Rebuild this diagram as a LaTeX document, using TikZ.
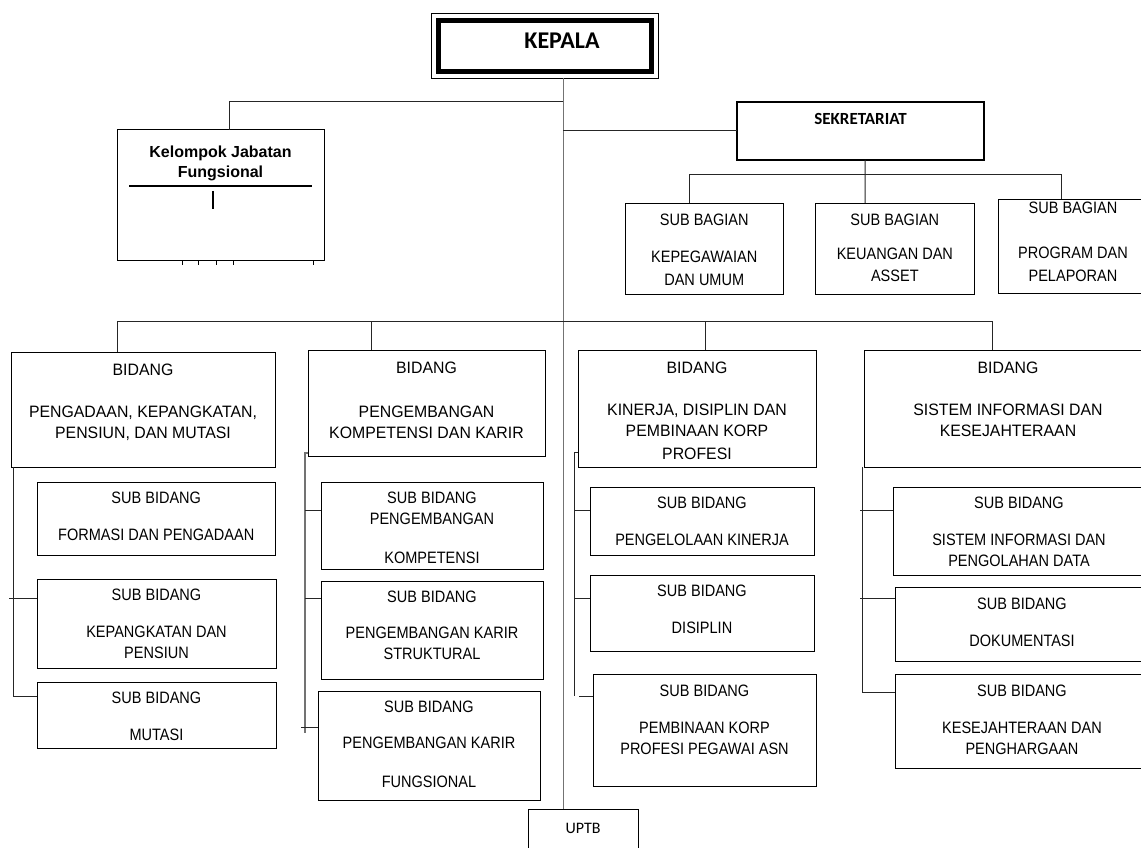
\documentclass[tikz,border=0pt]{standalone}
\usepackage{fontspec}
\usetikzlibrary{calc}
\newfontfamily\subf[FakeStretch=0.88]{Liberation Sans}
\newfontfamily\bidf[FakeStretch=0.96]{Liberation Sans}
\newfontfamily\arialf{Liberation Sans}
\newfontfamily\calib{Carlito}
\tikzset{
  box/.style={draw, rectangle, line width=1pt, inner sep=0pt, outer sep=0pt},
  txt/.style={anchor=base, inner sep=0pt, outer sep=0pt},
  subtx/.style={font=\subf\fontsize{16.5}{21.5}\selectfont},
  bidtx/.style={font=\bidf\fontsize{16.5}{21.5}\selectfont},
  ln/.style={line width=1pt, draw=black!85},
  gl/.style={line width=1.4pt, draw=black!55},
}
\newcommand\bx[8]{%
  \node[box,#1,minimum width={#5-#3},minimum height={#6-#4}] (#2) at ({(#3+#5)/2},{(#4+#6)/2}) {};
  \node[txt,#1] (#2t) at ({(#3+#5)/2},#7) {\begin{tabular}[t]{@{}c@{}}#8\end{tabular}};}
\begin{document}
\begin{tikzpicture}[x=1pt,y=-1pt]
\useasboundingbox (0,0) rectangle (1141,848);
\clip (0,0) rectangle (1141,848);
% top level
\node[box,minimum width=226.5,minimum height=65] (kep) at (544.75,46) {};
\draw[line width=5pt] ($(kep.north west)+(7,7)$) rectangle ($(kep.south east)+(-7,-7)$);
\node[txt,font=\calib\bfseries\fontsize{24}{28}\selectfont] (kept) at (562,49) {KEPALA};
\bx{font=\arialf\bfseries\fontsize{16}{20}\selectfont}{kjf}{117}{130}{324}{260}{158}{Kelompok Jabatan\\Fungsional}
\draw[line width=1.2pt] ($(kjf.north west)+(12,56)$) -- ($(kjf.north west)+(195,56)$);
\draw[line width=1.2pt] ($(kjf.north west)+(96,61)$) -- ($(kjf.north west)+(96,79)$);
\foreach \dx in {65,81,99,116,196} \draw[line width=0.9pt] ($(kjf.south west)+(\dx,0)$) -- ++(0,5);
\bx{line width=2.2pt,font=\calib\bfseries\fontsize{17}{20}\selectfont}{sek}{737}{102}{984}{160}{125}{SEKRETARIAT}
% sub bagian
\bx{subtx}{sb1}{625}{203}{783.5}{294}{225}{SUB BAGIAN\\[15.5pt]KEPEGAWAIAN\\[1.5pt]DAN UMUM}
\bx{subtx}{sb2}{815.7}{203}{974}{294}{225}{SUB BAGIAN\\[13.5pt]KEUANGAN DAN\\ASSET}
\bx{subtx}{sb3}{998}{199}{1148}{293}{213}{SUB BAGIAN\\[23.5pt]PROGRAM DAN\\[1.5pt]PELAPORAN}
% bidang
\bx{bidtx}{bd1}{11}{352}{275}{467}{375}{BIDANG\\[20.5pt]PENGADAAN, KEPANGKATAN,\\PENSIUN, DAN MUTASI}
\bx{bidtx}{bd2}{308}{350}{545}{456}{373}{BIDANG\\[22.5pt]PENGEMBANGAN\\KOMPETENSI DAN KARIR}
\bx{bidtx}{bd3}{578}{350}{816}{467}{373}{BIDANG\\[20.5pt]KINERJA, DISIPLIN DAN\\PEMBINAAN KORP\\[1.5pt]PROFESI}
\bx{bidtx}{bd4}{864}{350}{1152}{467}{373}{BIDANG\\[20.5pt]SISTEM INFORMASI DAN\\KESEJAHTERAAN}
% column 1
\bx{subtx}{c1s1}{37.5}{482}{275}{555}{503}{SUB BIDANG\\[15.5pt]FORMASI DAN PENGADAAN}
\bx{subtx}{c1s2}{37}{579}{276}{668}{600}{SUB BIDANG\\[15.5pt]KEPANGKATAN DAN\\PENSIUN}
\bx{subtx}{c1s3}{37}{682}{276}{748}{703}{SUB BIDANG\\[15.5pt]MUTASI}
% column 2
\bx{subtx}{c2s1}{321}{482}{543}{569}{503}{SUB BIDANG\\PENGEMBANGAN\\[17.5pt]KOMPETENSI}
\bx{subtx}{c2s2}{321}{581}{543}{679}{602}{SUB BIDANG\\[14.5pt]PENGEMBANGAN KARIR\\STRUKTURAL}
\bx{subtx}{c2s3}{318}{691}{540}{800}{712}{SUB BIDANG\\[14.5pt]PENGEMBANGAN KARIR\\[17.5pt]FUNGSIONAL}
% column 3
\bx{subtx}{c3s1}{590}{487}{814}{555}{508}{SUB BIDANG\\[15.5pt]PENGELOLAAN KINERJA}
\bx{subtx}{c3s2}{590}{575}{814}{651}{596}{SUB BIDANG\\[15.5pt]DISIPLIN}
\bx{subtx}{c3s3}{593}{674}{816}{786}{696}{SUB BIDANG\\[15.5pt]PEMBINAAN KORP\\PROFESI PEGAWAI ASN}
% column 4
\bx{subtx}{c4s1}{893}{487}{1145}{575}{508}{SUB BIDANG\\[15.5pt]SISTEM INFORMASI DAN\\PENGOLAHAN DATA}
\bx{subtx}{c4s2}{895}{587}{1149}{661}{609}{SUB BIDANG\\[15.5pt]DOKUMENTASI}
\bx{subtx}{c4s3}{895}{674}{1149}{768}{696}{SUB BIDANG\\[15.5pt]KESEJAHTERAAN DAN\\PENGHARGAAN}
% UPTB
\bx{font=\calib\fontsize{16}{20}\selectfont}{uptb}{528}{809}{638}{880}{833}{UPTB}
% connectors
\coordinate (trk) at ($(kep.south)+(18.5,0)$);
\draw[gl] (trk) -- (trk |- uptb.north);
\draw[ln] (trk |- 0,101.7) -| ($(kjf.north)+(8.5,0)$);
\draw[ln] (trk |- sek.west) -- (sek.west);
\draw[ln] ($(sb2.north)+(-29.85,0)$) -- ($(sek.south)+(4.5,0)$);
\draw[ln] ($(sb1.north)+(-15.25,0)$) |- ($(sb3.north)+(-12,-24)$) -- ($(sb3.north)+(-12,0)$);
\draw[ln] ($(bd1.north)+(-26,0)$) |- ($(bd4.north)+(-16,-29)$) -- ($(bd4.north)+(-16,0)$);
\draw[ln] ($(bd2.north)+(-55.5,0)$) -- ++(0,-29);
\draw[ln] ($(bd3.north)+(8,0)$) -- ++(0,-29);
% column 1 connectors
\draw[ln] ($(bd1.south west)+(2.6,0)$) |- ($(c1s3.north west)+(0,14)$);
\draw[ln] ($(c1s2.north west)+(-28,19)$) -- ($(c1s2.north west)+(0,19)$);
% column 2 connectors
\draw[gl] ($(bd2.south west)+(0,-3)$) -- ++(-3,0) -- ++(0,280);
\draw[ln] ($(c2s1.north west)+(-16,28)$) -- ($(c2s1.north west)+(0,28)$);
\draw[ln] ($(c2s2.north west)+(-16,17)$) -- ($(c2s2.north west)+(0,17)$);
\draw[ln] ($(c2s3.north west)+(-17,36)$) -- ($(c2s3.north west)+(0,36)$);
% column 3 connectors
\draw[ln] ($(bd3.south west)+(0,-15)$) -- ++(-4,0) -- ++(0,244);
\draw[ln] ($(c3s1.north west)+(-16,23)$) -- ($(c3s1.north west)+(0,23)$);
\draw[ln] ($(c3s2.north west)+(-16,23)$) -- ($(c3s2.north west)+(0,23)$);
\draw[ln] ($(c3s3.north west)+(-14,22)$) -- ($(c3s3.north west)+(0,22)$);
% column 4 connectors
\draw[ln] ($(bd4.south west)+(-2,0)$) -- ++(0,225);
\draw[ln] ($(c4s1.north west)+(-33,23)$) -- ($(c4s1.north west)+(0,23)$);
\draw[ln] ($(c4s2.north west)+(-35,11)$) -- ($(c4s2.north west)+(0,11)$);
\draw[ln] ($(c4s3.north west)+(-33,18)$) -- ($(c4s3.north west)+(0,18)$);
\end{tikzpicture}
\end{document}
